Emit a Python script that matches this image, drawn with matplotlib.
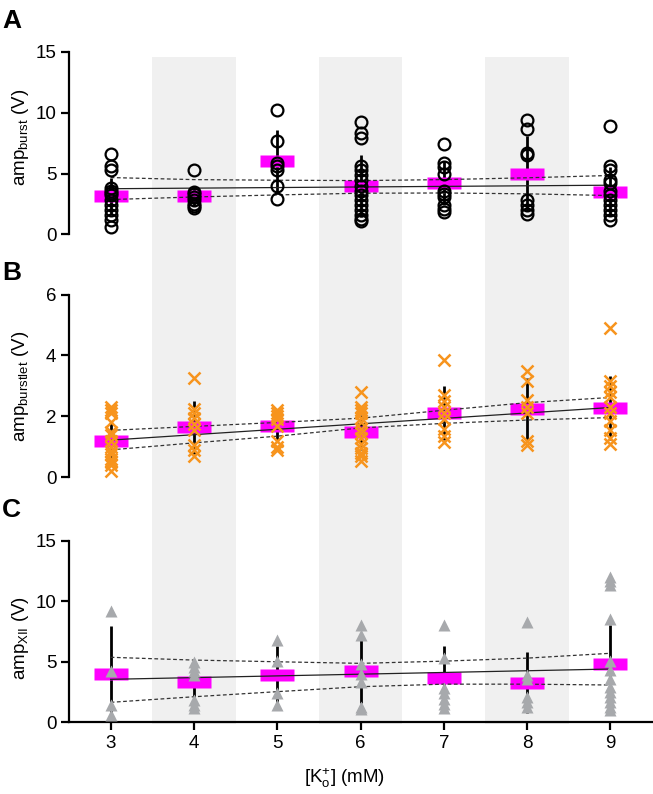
import matplotlib
matplotlib.use("Agg")
import matplotlib.pyplot as plt
from matplotlib.path import Path
import numpy as np

plt.rcParams['font.family'] = ['Liberation Sans', 'DejaVu Sans']
plt.rcParams['mathtext.default'] = 'regular'

# ---------------- data ----------------
k_conc = [3, 4, 5, 6, 7, 8, 9]
band_centers = [4, 6, 8]

burst_vals = [
    [6.6, 5.6, 5.3, 3.8, 3.6, 3.4, 3.2, 2.8, 2.4, 2.0, 1.6, 1.2, 0.6],
    [5.3, 3.5, 3.3, 3.1, 2.8, 2.5, 2.3, 2.2],
    [10.2, 7.7, 5.9, 5.6, 5.3, 4.0, 2.9],
    [9.2, 8.3, 7.9, 5.6, 5.3, 4.9, 4.5, 4.0, 3.6, 3.2, 2.8, 2.4, 2.0, 1.6, 1.3, 1.1],
    [7.4, 5.9, 5.5, 5.0, 3.6, 3.3, 3.1, 2.4, 2.1, 1.8],
    [9.4, 8.7, 6.7, 6.5, 2.8, 2.4, 2.0, 1.7],
    [8.9, 5.6, 5.3, 4.5, 4.2, 3.6, 3.2, 2.8, 2.4, 2.0, 1.6, 1.2],
]
burst_mean = [3.15, 3.15, 6.0, 3.95, 4.2, 5.0, 3.5]
burst_err_lo = [1.7, 2.3, 3.3, 1.4, 2.4, 1.9, 1.5]
burst_err_hi = [4.6, 4.0, 8.6, 6.5, 6.0, 8.1, 5.5]
burst_fit = [3.75, 4.04]
burst_ci_hi = [4.67, 4.5, 4.45, 4.42, 4.5, 4.65, 4.84]
burst_ci_lo = [2.86, 3.07, 3.24, 3.38, 3.4, 3.33, 3.19]

burstlet_vals = [
    [2.3, 2.2, 2.1, 1.8, 1.5, 1.4, 1.2, 1.0, 0.85, 0.75, 0.6, 0.5, 0.4, 0.2],
    [3.25, 2.25, 2.1, 1.95, 1.75, 1.55, 1.05, 0.9, 0.7],
    [2.2, 2.1, 2.0, 1.9, 1.7, 1.2, 1.0, 0.9],
    [2.8, 2.3, 2.2, 2.1, 1.95, 1.8, 1.6, 1.45, 1.3, 1.1, 0.95, 0.8, 0.7, 0.55],
    [3.85, 2.7, 2.5, 2.3, 2.1, 1.9, 1.6, 1.35, 1.15],
    [3.5, 3.15, 2.55, 2.3, 2.1, 1.2, 1.05],
    [4.9, 3.15, 3.0, 2.8, 2.65, 2.3, 2.1, 1.85, 1.55, 1.3, 1.1],
]
burstlet_mean = [1.19, 1.65, 1.68, 1.49, 2.1, 2.24, 2.29]
burstlet_err_lo = [0.55, 0.78, 1.15, 0.89, 1.22, 1.22, 1.22]
burstlet_err_hi = [1.85, 2.5, 2.23, 2.05, 3.0, 3.25, 3.34]
burstlet_fit = [1.22, 2.29]
burstlet_ci_hi = [1.54, 1.67, 1.8, 1.94, 2.2, 2.45, 2.62]
burstlet_ci_lo = [0.9, 1.13, 1.35, 1.62, 1.77, 1.88, 1.96]

xii_vals = [
    [9.2, 4.25, 1.4, 0.6],
    [5.0, 4.6, 4.2, 3.9, 1.85, 1.45, 1.15],
    [6.8, 5.1, 2.4, 1.4],
    [8.0, 7.2, 4.8, 4.0, 3.3, 1.3, 1.1],
    [8.0, 5.3, 2.8, 2.4, 1.9, 1.5, 1.15],
    [8.3, 3.9, 3.6, 2.1, 1.7, 1.3],
    [12.0, 11.7, 11.3, 8.5, 5.1, 4.3, 3.6, 2.9, 2.5, 2.1, 1.7, 1.3, 1.0],
]
xii_mean = [3.96, 3.3, 3.9, 4.24, 3.63, 3.22, 4.79]
xii_err_lo = [0.0, 1.7, 1.5, 1.6, 1.0, 0.74, 0.74]
xii_err_hi = [7.98, 4.9, 6.3, 6.8, 6.3, 5.78, 8.03]
xii_fit = [3.55, 4.4]
xii_ci_hi = [5.37, 5.14, 5.0, 4.87, 5.05, 5.3, 5.7]
xii_ci_lo = [1.65, 2.11, 2.53, 2.94, 3.15, 3.15, 3.08]

# ---------------- figure ----------------
W, H = 653, 794
fig = plt.figure(figsize=(W / 100, H / 100), dpi=100)

def px_rect(x0, y0, x1, y1):
    return [x0 / W, (H - y1) / H, (x1 - x0) / W, (y1 - y0) / H]

XL = (2.5, 9.5)
ax_left, ax_right = 69, 652

# background bands
bg = fig.add_axes(px_rect(ax_left, 57, ax_right, 724), zorder=0)
bg.set_xlim(*XL)
bg.set_ylim(0, 1)
bg.axis('off')
for c in band_centers:
    bg.axvspan(c - 0.5, c + 0.5, color='#f0f0f0', lw=0)

bar_marker = Path([(-1, -0.333), (1, -0.333), (1, 0.333), (-1, 0.333), (-1, -0.333)],
                  [Path.MOVETO, Path.LINETO, Path.LINETO, Path.LINETO, Path.CLOSEPOLY])

FS = 13.5

def panel(rect, vals, mean, elo, ehi, fit, cihi, cilo, ylim, yticks, ylabel,
          mstyle, letter, letter_y, label_y, bottom_axis=False):
    ax = fig.add_axes(rect, zorder=1)
    ax.patch.set_visible(False)
    ax.set_xlim(*XL)
    ax.set_ylim(*ylim)
    for s in ['top', 'right']:
        ax.spines[s].set_visible(False)
    ax.spines['left'].set_linewidth(1.6)
    ax.spines['bottom'].set_linewidth(1.6)
    if not bottom_axis:
        ax.spines['bottom'].set_visible(False)
        ax.set_xticks([])
    else:
        ax.set_xticks(k_conc)
        ax.set_xticklabels([str(k) for k in k_conc])
        ax.set_xlabel(r'[K$^{+}_{o}$] (mM)', fontsize=FS)
        ax.xaxis.set_label_coords(0.473, -0.245)
    ax.set_yticks(yticks)
    ax.tick_params(axis='both', direction='out', length=6, width=1.6,
                   labelsize=FS, pad=3)
    ax.set_ylabel(ylabel, fontsize=FS)
    ax.yaxis.set_label_coords(-0.066, label_y)

    # error bars
    ax.vlines(k_conc, elo, ehi, color='black', lw=2.0, zorder=2)
    # mean bars
    ax.plot(k_conc, mean, ls='none', marker=bar_marker, ms=23.8,
            mfc='#ff00ff', mec='none', zorder=3)
    # regression and confidence band
    ax.plot([k_conc[0], k_conc[-1]], fit, color='#222222', lw=0.9, zorder=4)
    ax.plot(k_conc, cihi, color='#333333', lw=0.9, ls=(0, (3, 2)), zorder=4)
    ax.plot(k_conc, cilo, color='#333333', lw=0.9, ls=(0, (3, 2)), zorder=4)
    # individual points
    for k, v in zip(k_conc, vals):
        ax.plot([k] * len(v), v, ls='none', zorder=5, clip_on=False, **mstyle)

    fig.text(2 / W, 1 - letter_y / H, letter, fontsize=19, fontweight='bold',
             va='top', ha='left')
    return ax

panel(px_rect(ax_left, 52, ax_right, 234.3), burst_vals, burst_mean, burst_err_lo,
      burst_err_hi, burst_fit, burst_ci_hi, burst_ci_lo, (0, 15), [0, 5, 10, 15],
      r'amp$_{\mathregular{burst}}$ (V)',
      dict(marker='o', ms=8.5, mfc='none', mec='black', mew=1.6),
      'A', 9, 0.53)

panel(px_rect(ax_left, 294.5, ax_right, 477.3), burstlet_vals, burstlet_mean,
      burstlet_err_lo, burstlet_err_hi, burstlet_fit, burstlet_ci_hi,
      burstlet_ci_lo, (0, 6), [0, 2, 4, 6],
      r'amp$_{\mathregular{burstlet}}$ (V)',
      dict(marker='x', ms=8.5, mec='#f7941d', mew=1.8),
      'B', 261, 0.5)

panel(px_rect(ax_left, 540.7, ax_right, 722.3), xii_vals, xii_mean, xii_err_lo,
      xii_err_hi, xii_fit, xii_ci_hi, xii_ci_lo, (0, 15), [0, 5, 10, 15],
      r'amp$_{\mathregular{XII}}$ (V)',
      dict(marker='^', ms=8.5, mfc='#a7a9ac', mec='none'),
      'C', 498, 0.465, bottom_axis=True)

fig.savefig('out.png', dpi=100)
